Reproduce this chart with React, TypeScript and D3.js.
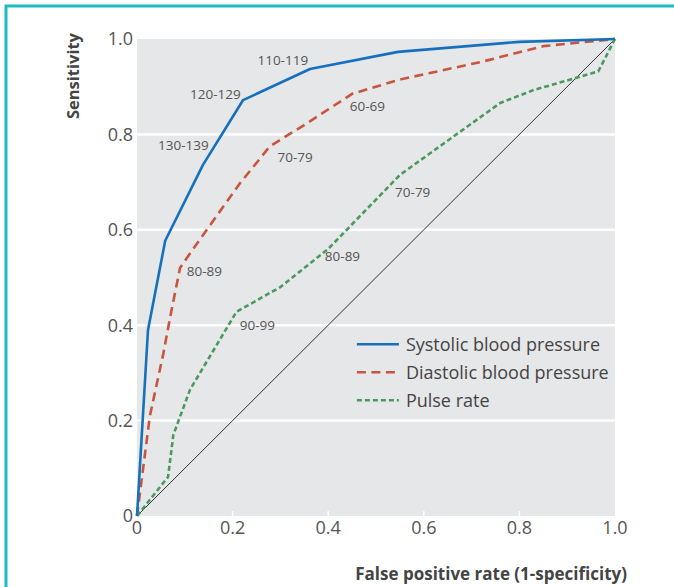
import React from "react";
import * as d3 from "d3";

// ROC curves, values (x = false positive rate, y = sensitivity)
const systolicFpr = [0, 0.023, 0.059, 0.138, 0.222, 0.362, 0.546, 0.8, 1];
const systolicSens = [0, 0.39, 0.577, 0.736, 0.872, 0.937, 0.973, 0.994, 1];

const diastolicFpr = [0, 0.027, 0.055, 0.07, 0.09, 0.1, 0.146, 0.215, 0.278, 0.355, 0.45, 0.55, 0.72, 0.85, 1];
const diastolicSens = [0, 0.21, 0.34, 0.42, 0.52, 0.535, 0.6, 0.697, 0.775, 0.823, 0.885, 0.915, 0.952, 0.985, 1];

const pulseFpr = [0, 0.065, 0.076, 0.111, 0.208, 0.3, 0.4, 0.55, 0.76, 0.83, 0.965, 1];
const pulseSens = [0, 0.082, 0.17, 0.265, 0.428, 0.48, 0.56, 0.715, 0.866, 0.893, 0.932, 1];

// cut-off labels: text and the point they sit next to
const systolicLabels = ["130-139", "120-129", "110-119"];
const systolicLabelAt = [[0.15, 0.778], [0.217, 0.885], [0.358, 0.955]];
const diastolicLabels = ["80-89", "70-79", "60-69"];
const diastolicLabelAt = [[0.104, 0.514], [0.294, 0.752], [0.445, 0.859]];
const pulseLabels = ["90-99", "80-89", "70-79"];
const pulseLabelAt = [[0.215, 0.4], [0.393, 0.545], [0.54, 0.68]];

const xTicks = [0, 0.2, 0.4, 0.6, 0.8, 1.0];
const yTicks = [0.2, 0.4, 0.6, 0.8, 1.0];

const seriesNames = ["Systolic blood pressure", "Diastolic blood pressure", "Pulse rate"];

const W = 674;
const H = 587;
const margin = { top: 39, right: 59, bottom: 71, left: 137 };

const font = "'Open Sans', 'Noto Sans', sans-serif";
const textColor = "#555";

const App = () => {
  const x = d3
    .scaleLinear()
    .domain([0, 1])
    .range([margin.left, W - margin.right]);
  const y = d3
    .scaleLinear()
    .domain([0, 1])
    .range([H - margin.bottom, margin.top]);

  const line = d3
    .line<[number, number]>()
    .x((d) => x(d[0]))
    .y((d) => y(d[1]));

  const zip = (a: number[], b: number[]) => a.map((v, i) => [v, b[i]] as [number, number]);

  const series = [
    { name: seriesNames[0], pts: zip(systolicFpr, systolicSens), color: "#1570BE", dash: "none" },
    { name: seriesNames[1], pts: zip(diastolicFpr, diastolicSens), color: "#C8553D", dash: "9,5.5" },
    { name: seriesNames[2], pts: zip(pulseFpr, pulseSens), color: "#4A9A60", dash: "5,3" },
  ];

  const labels = [
    ...systolicLabels.map((t, i) => ({ t, at: systolicLabelAt[i], anchor: "end" })),
    ...diastolicLabels.map((t, i) => ({ t, at: diastolicLabelAt[i], anchor: "start" })),
    ...pulseLabels.map((t, i) => ({ t, at: pulseLabelAt[i], anchor: "start" })),
  ];

  const bottom = y(0);
  const legendX = x(0.46);
  const legendY = y(0.36);

  return (
    <svg
      width={W}
      height={H}
      style={{ position: "absolute", left: 0, top: 0, background: "#fff" }}
      fontFamily={font}
    >
      {/* teal frame */}
      <rect x={6} y={6} width={W + 20} height={H + 20} fill="none" stroke="#1DBDBD" strokeWidth={3} />

      {/* plot background */}
      <rect x={x(0)} y={y(1)} width={x(1) - x(0)} height={y(0) - y(1)} fill="#E6E7E8" />

      {/* gridlines */}
      {yTicks
        .filter((t) => t < 1)
        .map((t) => (
          <line key={"g" + t} x1={x(0)} x2={x(1)} y1={y(t)} y2={y(t)} stroke="#fff" strokeWidth={2.5} />
        ))}
      {xTicks
        .filter((t) => t > 0 && t < 1)
        .map((t) => (
          <line key={"xt" + t} x1={x(t)} x2={x(t)} y1={bottom} y2={bottom - 5} stroke="#fff" strokeWidth={1.5} />
        ))}

      {/* tick labels */}
      {yTicks.map((t) => (
        <text key={"yl" + t} x={x(0) - 4} y={y(t)} dy="0.36em" textAnchor="end" fontSize={18} fill={textColor}>
          {t.toFixed(1)}
        </text>
      ))}
      <text x={x(0) - 4} y={y(0)} dy="0.36em" textAnchor="end" fontSize={18} fill={textColor}>
        0
      </text>
      {xTicks.map((t) => (
        <text key={"xl" + t} x={x(t)} y={bottom + 12} dy="0.36em" textAnchor="middle" fontSize={18} fill={textColor}>
          {t === 0 ? "0" : t.toFixed(1)}
        </text>
      ))}

      {/* chance diagonal */}
      <line x1={x(0)} y1={y(0)} x2={x(1)} y2={y(1)} stroke="#333" strokeWidth={1} />

      {/* curves */}
      {series
        .slice()
        .reverse()
        .map((s) => (
          <path
            key={s.name}
            d={line(s.pts) || ""}
            fill="none"
            stroke={s.color}
            strokeWidth={2.6}
            strokeDasharray={s.dash}
            strokeLinejoin="round"
          />
        ))}

      {/* cut-off labels */}
      {labels.map((l, i) => (
        <text
          key={"lab" + i}
          x={x(l.at[0])}
          y={y(l.at[1])}
          dy="0.36em"
          textAnchor={l.anchor}
          fontSize={13.5}
          fill={textColor}
        >
          {l.t}
        </text>
      ))}

      {/* legend */}
      {series.map((s, i) => (
        <g key={"leg" + i} transform={`translate(${legendX},${legendY + i * 28})`}>
          <line x1={0} x2={42} y1={0} y2={0} stroke={s.color} strokeWidth={2.6} strokeDasharray={s.dash} />
          <text x={49} y={0} dy="0.36em" fontSize={18} fill="#444">
            {s.name}
          </text>
        </g>
      ))}

      {/* axis titles */}
      <text
        transform={`translate(79,33) rotate(-90)`}
        textAnchor="end"
        fontSize={16.5}
        fontWeight="bold"
        fill="#444"
      >
        Sensitivity
      </text>
      <text x={627} y={580} textAnchor="end" fontSize={17} fontWeight="bold" fill="#444">
        False positive rate (1-specificity)
      </text>
    </svg>
  );
};

export default App;
